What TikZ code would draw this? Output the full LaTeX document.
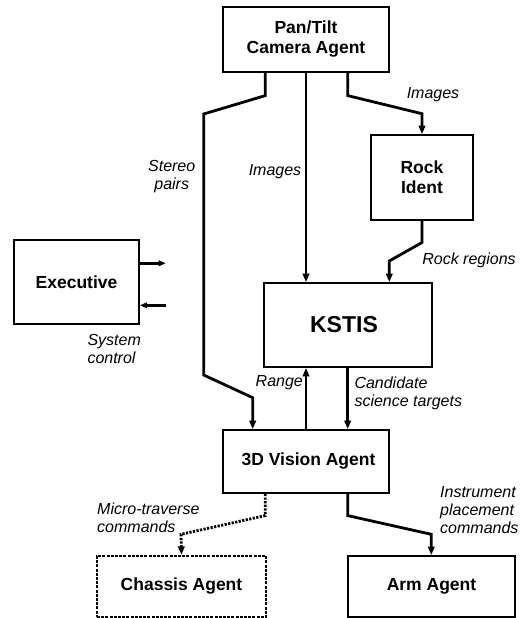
\documentclass[tikz,border=0pt]{standalone}
\usepackage{fontspec}
\setmainfont{Liberation Sans}
\usetikzlibrary{arrows.meta,calc}
\begin{document}
\begin{tikzpicture}[x=1pt,y=-1pt,
  box/.style={draw,line width=1.8pt,inner sep=0pt,font=\fontsize{17.5}{20}\selectfont\bfseries,align=center},
  dotbox/.style={box,line width=2.2pt,dash pattern=on 3pt off 1.2pt},
  conn/.style={line width=2.8pt,-{Triangle[length=8.5pt,width=6.5pt]}},
  dotconn/.style={line width=2.8pt,dash pattern=on 2.2pt off 1.4pt,-{Triangle[length=8.5pt,width=6.5pt]}},
  lbl/.style={font=\fontsize{16}{18}\selectfont\itshape,inner sep=0pt}]
\useasboundingbox[fill=white] (0,0) rectangle (528,618);
\node[box,minimum width=166pt,minimum height=65pt] (pan) at (306,39.5) {Pan/Tilt\\Camera Agent};
\node[box,minimum width=102pt,minimum height=85pt] (rock) at (422,177.5) {Rock\\Ident};
\node[box,minimum width=125pt,minimum height=84pt] (exec) at (76.5,282) {Executive};
\node[box,minimum width=168pt,minimum height=84pt,font=\fontsize{23}{26}\selectfont\bfseries] (kstis) at (348,325) {\hspace{-8pt}KSTIS};
\node[box,minimum width=166pt,minimum height=63pt] (vis) at (306,461.5) {\hspace{5pt}3D Vision Agent};
\node[dotbox,minimum width=169pt,minimum height=61pt] (chassis) at (181.5,586.5) {Chassis Agent};
\node[box,minimum width=167pt,minimum height=61pt] (arm) at (431.5,586.5) {Arm Agent};
% stereo pairs
\draw[conn] ($(pan.south)+(-40.7,0)$) -- ++(0,22.7) -- (203.7,114) -- (203.7,375) -- (252.7,397.7) -- ($(vis.north)+(-53.3,0)$);
% images middle
\draw[conn] (pan.south) -- (kstis.north -| pan.south);
% images right
\draw[conn] ($(pan.south)+(41.7,0)$) -- ++(0,22.7) -- (422,113.7) -- (rock.north);
% rock regions
\draw[conn] (rock.south) -- ++(0,21.6) -- (389.3,261) -- (kstis.north -| 389.3,0);
% range
\draw[conn] (vis.north) -- (kstis.south -| vis.north);
% candidate
\draw[conn] ($(kstis.south)+(-0.3,0)$) -- (vis.north -| 347.7,0);
% executive
\coordinate (eo) at (165.7,263.3);
\coordinate (ei) at (165.7,305.3);
\draw[line width=2.8pt,-{Triangle[length=7pt,width=5.5pt]}] (exec.east |- eo) -- (eo);
\draw[line width=2.8pt,-{Triangle[length=7pt,width=5.5pt]}] (ei) -- (exec.east |- ei);
% micro-traverse
\draw[dotconn] ($(vis.south)+(-40.7,0)$) -- ++(0,21.7) -- (181,534.3) -- (chassis.north);
% instrument
\draw[conn] ($(vis.south)+(41.7,0)$) -- ++(0,21.7) -- (431.3,534.3) -- (arm.north -| 431.3,0);
% labels
\node[lbl,align=center] (l1) at (171.7,177) {Stereo\\pairs};
\node[lbl] (l2) at (275,171.7) {Images};
\node[lbl] (l3) at (433,95) {Images};
\node[lbl] (l4) at (469,260) {Rock regions};
\node[lbl,align=left,anchor=west] (l5) at (87.3,349) {System\\control};
\node[lbl] (l6) at (279.3,382.3) {Range};
\node[lbl,align=left,anchor=west] (l7) at (354.3,393.3) {Candidate\\science targets};
\node[lbl,align=left,anchor=west] (l8) at (97,518) {Micro-traverse\\commands};
\node[lbl,align=left,anchor=west] (l9) at (440,510) {Instrument\\placement\\commands};
\end{tikzpicture}
\end{document}
